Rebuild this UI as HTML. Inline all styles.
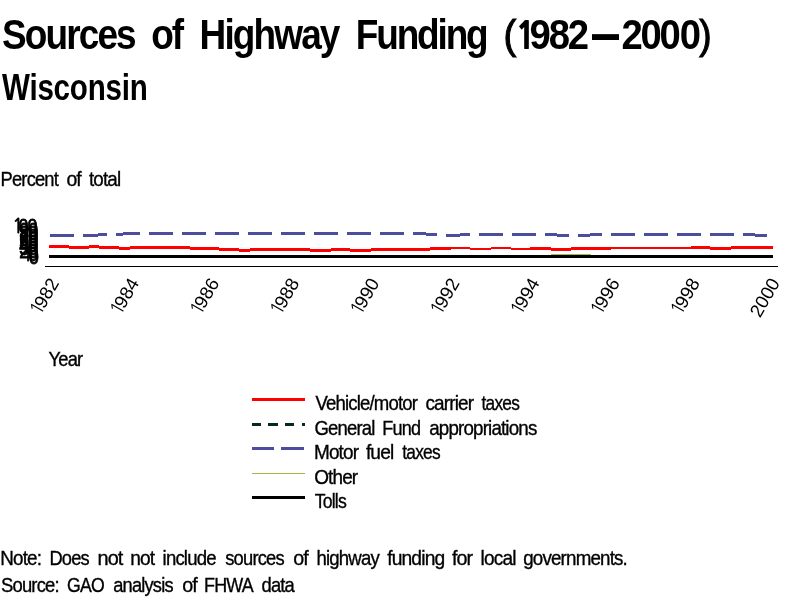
<!DOCTYPE html>
<html><head><meta charset="utf-8"><title>Sources of Highway Funding (1982-2000) Wisconsin</title>
<style>
html,body{margin:0;padding:0;background:#fff;width:800px;height:600px;overflow:hidden}
svg{display:block}
text{font-family:"Liberation Sans",Arial,Helvetica,sans-serif;fill:#000}
text.r{stroke:#000;stroke-width:0.35px}
</style></head><body>
<svg width="800" height="600" viewBox="0 0 800 600">
<rect width="800" height="600" fill="#fff"/>
<g shape-rendering="crispEdges">
<g fill="#ff0000"><rect x="49" y="245" width="20" height="3"/><rect x="69" y="246" width="20" height="3"/><rect x="89" y="245" width="10" height="3"/><rect x="99" y="246" width="20" height="3"/><rect x="119" y="247" width="11" height="3"/><rect x="130" y="246" width="60" height="3"/><rect x="190" y="247" width="29" height="3"/><rect x="219" y="248" width="20" height="3"/><rect x="239" y="249" width="11" height="3"/><rect x="250" y="248" width="60" height="3"/><rect x="310" y="249" width="21" height="3"/><rect x="331" y="248" width="19" height="3"/><rect x="350" y="249" width="21" height="3"/><rect x="371" y="248" width="59" height="3"/><rect x="430" y="247" width="21" height="3"/><rect x="451" y="247" width="19" height="2"/><rect x="470" y="248" width="21" height="2"/><rect x="491" y="247" width="20" height="2"/><rect x="511" y="248" width="19" height="2"/><rect x="530" y="247" width="21" height="3"/><rect x="551" y="248" width="20" height="3"/><rect x="571" y="247" width="40" height="3"/><rect x="611" y="247" width="80" height="2"/><rect x="691" y="246" width="19" height="3"/><rect x="710" y="247" width="21" height="3"/><rect x="731" y="246" width="42" height="3"/></g>
<g fill="#4d4d9d"><rect x="50" y="234" width="24.0" height="3"/><rect x="83" y="234" width="15.0" height="3"/><rect x="98" y="233" width="9.0" height="3"/><rect x="116" y="233" width="7.0" height="3"/><rect x="123" y="232" width="17.0" height="3"/><rect x="149" y="232" width="24.0" height="3"/><rect x="182" y="232" width="24.0" height="3"/><rect x="215" y="232" width="24.0" height="3"/><rect x="248" y="232" width="24.0" height="3"/><rect x="281" y="232" width="24.0" height="3"/><rect x="314" y="232" width="24.0" height="3"/><rect x="347" y="232" width="24.0" height="3"/><rect x="380" y="232" width="24.0" height="3"/><rect x="413" y="232" width="12.6" height="3"/><rect x="425.6" y="233" width="11.4" height="3"/><rect x="446" y="234" width="14.0" height="3"/><rect x="460" y="233" width="10.0" height="3"/><rect x="479" y="233" width="24.0" height="3"/><rect x="512" y="233" width="24.0" height="3"/><rect x="545" y="233" width="12.0" height="3"/><rect x="557" y="234" width="12.0" height="3"/><rect x="578" y="234" width="12.0" height="3"/><rect x="590" y="233" width="12.0" height="3"/><rect x="611" y="233" width="24.0" height="3"/><rect x="644" y="233" width="24.0" height="3"/><rect x="677" y="233" width="24.0" height="3"/><rect x="710" y="233" width="24.0" height="3"/><rect x="743" y="233" width="12.0" height="3"/><rect x="755" y="234" width="12.0" height="3"/></g>
<rect x="49" y="255" width="724" height="3" fill="#000"/>
<rect x="551" y="254" width="40" height="1" fill="#9dbb3c"/>
<rect x="45" y="266" width="733" height="1" fill="#000"/>
<!-- legend lines -->
<rect x="252" y="398" width="53" height="3" fill="#ff0000"/>
<g fill="#062a18"><rect x="252" y="423" width="9" height="3"/><rect x="268" y="423" width="10" height="3"/><rect x="285" y="423" width="9" height="3"/><rect x="302" y="423" width="3" height="3"/></g>
<g fill="#4d4d9d"><rect x="252" y="447" width="22" height="3"/><rect x="281" y="447" width="23" height="3"/></g>
<rect x="252" y="473" width="53" height="1" fill="#9dbb3c"/>
<rect x="252" y="496" width="53" height="3" fill="#000"/>
</g>
<text transform="scale(0.8800,1)" x="2.15" y="49" font-size="42.03" font-weight="700" letter-spacing="-2.106">Sources</text>
<text transform="scale(0.8800,1)" x="171.96" y="49" font-size="42.03" font-weight="700" letter-spacing="-2.582">of</text>
<text transform="scale(0.8800,1)" x="226.81" y="49" font-size="42.03" font-weight="700" letter-spacing="-2.125">Highway</text>
<text transform="scale(0.8800,1)" x="404.31" y="49" font-size="42.03" font-weight="700" letter-spacing="-2.446">Funding</text>
<text class="r" style="stroke-width:1.1px" transform="scale(0.9485,1)" x="530.82" y="49.4" font-size="40.58" font-weight="400" letter-spacing="0.000">(</text>
<text class="r" style="stroke-width:1.1px" transform="scale(0.9113,1)" x="767.25" y="49.4" font-size="40.58" font-weight="400" letter-spacing="0.000">)</text>
<text transform="scale(0.8000,1)" x="2.50" y="100" font-size="36.96" font-weight="700" letter-spacing="-0.274">Wisconsin</text>
<text class="r" transform="scale(0.9048,1)" x="0.59" y="186" font-size="20.29" font-weight="400" letter-spacing="-0.900">Percent</text>
<text class="r" transform="scale(0.9586,1)" x="69.29" y="186" font-size="20.29" font-weight="400" letter-spacing="-0.900">of</text>
<text class="r" transform="scale(0.9268,1)" x="95.94" y="186" font-size="20.29" font-weight="400" letter-spacing="-0.900">total</text>
<text class="r" transform="scale(0.9046,1)" x="53.66" y="366" font-size="20.29" font-weight="400" letter-spacing="-0.900">Year</text>
<text class="r" transform="scale(0.9163,1)" x="344.23" y="410" font-size="20.29" font-weight="400" letter-spacing="-0.900">Vehicle/motor</text>
<text class="r" transform="scale(0.9351,1)" x="454.97" y="410" font-size="20.29" font-weight="400" letter-spacing="-0.900">carrier</text>
<text class="r" transform="scale(0.8524,1)" x="564.95" y="410" font-size="20.29" font-weight="400" letter-spacing="-0.900">taxes</text>
<text class="r" transform="scale(0.9115,1)" x="345.11" y="435" font-size="20.29" font-weight="400" letter-spacing="-0.900">General</text>
<text class="r" transform="scale(0.8912,1)" x="429.03" y="435" font-size="20.29" font-weight="400" letter-spacing="-0.900">Fund</text>
<text class="r" transform="scale(0.9253,1)" x="463.88" y="435" font-size="20.29" font-weight="400" letter-spacing="-0.900">appropriations</text>
<text class="r" transform="scale(0.9349,1)" x="335.83" y="459" font-size="20.29" font-weight="400" letter-spacing="-0.900">Motor</text>
<text class="r" transform="scale(0.9455,1)" x="386.99" y="459" font-size="20.29" font-weight="400" letter-spacing="-0.900">fuel</text>
<text class="r" transform="scale(0.8546,1)" x="470.66" y="459" font-size="20.29" font-weight="400" letter-spacing="-0.900">taxes</text>
<text class="r" transform="scale(0.9345,1)" x="336.17" y="484" font-size="20.29" font-weight="400" letter-spacing="-0.900">Other</text>
<text class="r" transform="scale(0.8700,1)" x="361.68" y="508" font-size="20.29" font-weight="400" letter-spacing="-0.900">Tolls</text>
<text class="r" transform="scale(0.9288,1)" x="0.31" y="565" font-size="20.29" font-weight="400" letter-spacing="-0.900">Note:</text>
<text class="r" transform="scale(0.9021,1)" x="54.80" y="565" font-size="20.29" font-weight="400" letter-spacing="-0.900">Does</text>
<text class="r" transform="scale(0.9807,1)" x="99.43" y="565" font-size="20.29" font-weight="400" letter-spacing="-0.900">not</text>
<text class="r" transform="scale(0.9445,1)" x="137.91" y="565" font-size="20.29" font-weight="400" letter-spacing="-0.900">not</text>
<text class="r" transform="scale(0.9173,1)" x="177.25" y="565" font-size="20.29" font-weight="400" letter-spacing="-0.900">include</text>
<text class="r" transform="scale(0.9052,1)" x="248.84" y="565" font-size="20.29" font-weight="400" letter-spacing="-0.900">sources</text>
<text class="r" transform="scale(0.9717,1)" x="301.74" y="565" font-size="20.29" font-weight="400" letter-spacing="-0.900">of</text>
<text class="r" transform="scale(0.9166,1)" x="345.31" y="565" font-size="20.29" font-weight="400" letter-spacing="-0.900">highway</text>
<text class="r" transform="scale(0.9491,1)" x="407.96" y="565" font-size="20.29" font-weight="400" letter-spacing="-0.900">funding</text>
<text class="r" transform="scale(0.9704,1)" x="465.70" y="565" font-size="20.29" font-weight="400" letter-spacing="-0.900">for</text>
<text class="r" transform="scale(0.9420,1)" x="510.17" y="565" font-size="20.29" font-weight="400" letter-spacing="-0.900">local</text>
<text class="r" transform="scale(0.9264,1)" x="564.81" y="565" font-size="20.29" font-weight="400" letter-spacing="-0.900">governments.</text>
<text class="r" transform="scale(0.9100,1)" x="1.07" y="592" font-size="20.29" font-weight="400" letter-spacing="-0.900">Source:</text>
<text class="r" transform="scale(0.8713,1)" x="77.03" y="592" font-size="20.29" font-weight="400" letter-spacing="-0.900">GAO</text>
<text class="r" transform="scale(0.9004,1)" x="125.80" y="592" font-size="20.29" font-weight="400" letter-spacing="-0.900">analysis</text>
<text class="r" transform="scale(0.9717,1)" x="187.51" y="592" font-size="20.29" font-weight="400" letter-spacing="-0.900">of</text>
<text class="r" transform="scale(0.8843,1)" x="230.76" y="592" font-size="20.29" font-weight="400" letter-spacing="-0.900">FHWA</text>
<text class="r" transform="scale(0.9068,1)" x="288.35" y="592" font-size="20.29" font-weight="400" letter-spacing="-0.900">data</text>
<text transform="translate(592,53.2) scale(0.6429,1.4286)" x="0" y="0" font-size="42" font-weight="700">—</text>
<text transform="scale(0.91,1)" x="566.40 581.83 603.13 623.80" y="49" font-size="42.03" font-weight="700"><tspan font-family="NanumGothic, Liberation Sans, sans-serif" font-weight="800" font-size="37.4">1</tspan>982</text>
<text transform="scale(0.91,1)" x="683.03 703.92 724.69 746.95" y="49" font-size="42.03" font-weight="700">2000</text>
<text class="r" transform="scale(0.87,1)" x="43.76" y="264.20" font-size="20.29" letter-spacing="-1.0" text-anchor="end" style="stroke-width:0.8px">0</text>
<text class="r" transform="scale(0.87,1)" x="42.78" y="261.13" font-size="20.29" letter-spacing="-1.0" text-anchor="end" style="stroke-width:0.8px"><tspan font-family="NanumGothic, Liberation Sans, sans-serif">1</tspan><tspan dx="-4.5">0</tspan></text>
<text class="r" transform="scale(0.87,1)" x="42.78" y="258.06" font-size="20.29" letter-spacing="-1.0" text-anchor="end" style="stroke-width:0.8px">20</text>
<text class="r" transform="scale(0.87,1)" x="42.78" y="254.99" font-size="20.29" letter-spacing="-1.0" text-anchor="end" style="stroke-width:0.8px">30</text>
<text class="r" transform="scale(0.87,1)" x="42.78" y="251.92" font-size="20.29" letter-spacing="-1.0" text-anchor="end" style="stroke-width:0.8px">40</text>
<text class="r" transform="scale(0.87,1)" x="42.78" y="248.85" font-size="20.29" letter-spacing="-1.0" text-anchor="end" style="stroke-width:0.8px">50</text>
<text class="r" transform="scale(0.87,1)" x="42.78" y="245.78" font-size="20.29" letter-spacing="-1.0" text-anchor="end" style="stroke-width:0.8px">60</text>
<text class="r" transform="scale(0.87,1)" x="42.78" y="242.71" font-size="20.29" letter-spacing="-1.0" text-anchor="end" style="stroke-width:0.8px">70</text>
<text class="r" transform="scale(0.87,1)" x="42.78" y="239.64" font-size="20.29" letter-spacing="-1.0" text-anchor="end" style="stroke-width:0.8px">80</text>
<text class="r" transform="scale(0.87,1)" x="42.78" y="236.57" font-size="20.29" letter-spacing="-1.0" text-anchor="end" style="stroke-width:0.8px">90</text>
<text class="r" transform="scale(0.87,1)" x="41.80" y="233.50" font-size="20.29" letter-spacing="-1.0" text-anchor="end" style="stroke-width:0.8px"><tspan font-family="NanumGothic, Liberation Sans, sans-serif">1</tspan><tspan dx="-4.5">00</tspan></text>
<text transform="translate(59.6,282.75) rotate(-60) scale(1.0,1)" font-size="18.5" text-anchor="end"><tspan font-family="NanumGothic, Liberation Sans, sans-serif">1</tspan><tspan dx="-3">982</tspan></text>
<text transform="translate(139.7,282.75) rotate(-60) scale(1.0,1)" font-size="18.5" text-anchor="end"><tspan font-family="NanumGothic, Liberation Sans, sans-serif">1</tspan><tspan dx="-3">984</tspan></text>
<text transform="translate(219.8,282.75) rotate(-60) scale(1.0,1)" font-size="18.5" text-anchor="end"><tspan font-family="NanumGothic, Liberation Sans, sans-serif">1</tspan><tspan dx="-3">986</tspan></text>
<text transform="translate(299.9,282.75) rotate(-60) scale(1.0,1)" font-size="18.5" text-anchor="end"><tspan font-family="NanumGothic, Liberation Sans, sans-serif">1</tspan><tspan dx="-3">988</tspan></text>
<text transform="translate(380.0,282.75) rotate(-60) scale(1.0,1)" font-size="18.5" text-anchor="end"><tspan font-family="NanumGothic, Liberation Sans, sans-serif">1</tspan><tspan dx="-3">990</tspan></text>
<text transform="translate(460.1,282.75) rotate(-60) scale(1.0,1)" font-size="18.5" text-anchor="end"><tspan font-family="NanumGothic, Liberation Sans, sans-serif">1</tspan><tspan dx="-3">992</tspan></text>
<text transform="translate(540.2,282.75) rotate(-60) scale(1.0,1)" font-size="18.5" text-anchor="end"><tspan font-family="NanumGothic, Liberation Sans, sans-serif">1</tspan><tspan dx="-3">994</tspan></text>
<text transform="translate(620.3,282.75) rotate(-60) scale(1.0,1)" font-size="18.5" text-anchor="end"><tspan font-family="NanumGothic, Liberation Sans, sans-serif">1</tspan><tspan dx="-3">996</tspan></text>
<text transform="translate(700.4,282.75) rotate(-60) scale(1.0,1)" font-size="18.5" text-anchor="end"><tspan font-family="NanumGothic, Liberation Sans, sans-serif">1</tspan><tspan dx="-3">998</tspan></text>
<text transform="translate(780.5,282.75) rotate(-60) scale(1.0,1)" font-size="18.5" text-anchor="end">2000</text>
</svg>
</body></html>
